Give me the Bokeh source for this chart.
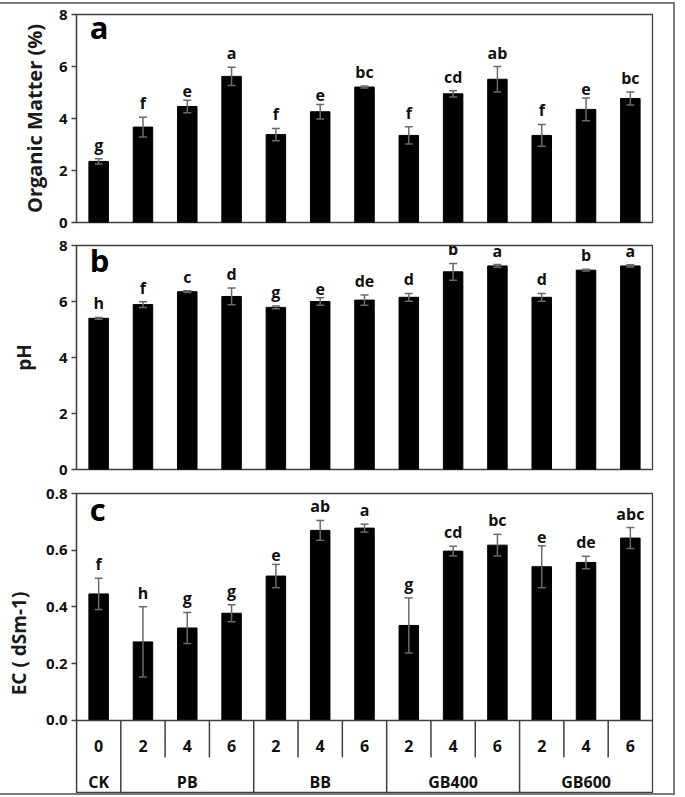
from bokeh.plotting import figure
from bokeh.models import (FactorRange, Range1d, ColumnDataSource, Whisker, TeeHead,
                          FixedTicker, NumeralTickFormatter, Span)
from bokeh.layouts import column
from bokeh.core.properties import value
from bokeh.embed import file_html
from bokeh.resources import INLINE

# ---------------- data ----------------
groups = ["CK", "PB", "PB", "PB", "BB", "BB", "BB",
          "GB400", "GB400", "GB400", "GB600", "GB600", "GB600"]
doses = ["0", "2", "4", "6", "2", "4", "6", "2", "4", "6", "2", "4", "6"]
group_names = ["CK", "PB", "BB", "GB400", "GB600"]

om_mean = [2.35, 3.67, 4.46, 5.62, 3.38, 4.26, 5.21, 3.35, 4.95, 5.51, 3.35, 4.35, 4.77]
om_err = [0.10, 0.38, 0.24, 0.35, 0.24, 0.28, 0.04, 0.33, 0.12, 0.49, 0.42, 0.44, 0.25]
om_letters = ["g", "f", "e", "a", "f", "e", "bc", "f", "cd", "ab", "f", "e", "bc"]

ph_mean = [5.40, 5.89, 6.35, 6.18, 5.79, 6.00, 6.05, 6.15, 7.06, 7.27, 6.15, 7.12, 7.27]
ph_err = [0.03, 0.10, 0.03, 0.30, 0.05, 0.13, 0.18, 0.14, 0.30, 0.05, 0.14, 0.03, 0.04]
ph_letters = ["h", "f", "c", "d", "g", "e", "de", "d", "b", "a", "d", "b", "a"]

ec_mean = [0.446, 0.277, 0.326, 0.378, 0.509, 0.670, 0.678, 0.335, 0.597, 0.618, 0.542, 0.557, 0.643]
ec_err = [0.055, 0.124, 0.055, 0.030, 0.041, 0.035, 0.014, 0.097, 0.017, 0.038, 0.074, 0.022, 0.037]
ec_letters = ["f", "h", "g", "g", "e", "ab", "a", "g", "cd", "bc", "e", "de", "abc"]

om_ticks = [0, 2, 4, 6, 8]
ph_ticks = [0, 2, 4, 6, 8]
ec_ticks = [0.0, 0.2, 0.4, 0.6, 0.8]

# ---------------- style ----------------
FONT = "Open Sans"
AX = "#404040"
ERR = "#6a6a6a"
W = 677

factors = list(zip(groups, doses))
x_range = FactorRange(*factors, group_padding=0, factor_padding=0,
                      subgroup_padding=0, range_padding=0)


def panel(height, top, bottom, y_range, mean, err, letters, ylabel, ticks,
          fmt, tag, tag_dy, standoff, label_size):
    p = figure(x_range=x_range, y_range=y_range, width=W, height=height,
               output_backend="svg", toolbar_location=None, x_axis_location=None,
               min_border_left=80, min_border_right=21,
               min_border_top=top, min_border_bottom=bottom)
    p.xgrid.visible = False
    p.ygrid.visible = False
    p.outline_line_color = AX
    p.outline_line_width = 1.3
    p.background_fill_color = "white"
    p.border_fill_color = "white"

    ax = p.yaxis[0]
    ax.ticker = FixedTicker(ticks=ticks)
    ax.formatter = NumeralTickFormatter(format=fmt)
    ax.axis_label = ylabel
    ax.axis_label_text_font = FONT
    ax.axis_label_text_font_style = "bold"
    ax.axis_label_text_font_size = label_size
    ax.axis_label_text_color = "#1a1a1a"
    ax.axis_label_standoff = standoff
    ax.major_label_text_font = FONT
    ax.major_label_text_font_style = "bold"
    ax.major_label_text_font_size = "15px"
    ax.major_label_text_color = "#111111"
    ax.major_label_standoff = 4
    ax.major_tick_in = 0
    ax.major_tick_out = 5
    ax.minor_tick_out = 0
    ax.minor_tick_in = 0
    ax.axis_line_color = AX
    ax.axis_line_width = 1.3
    ax.major_tick_line_color = AX
    ax.major_tick_line_width = 1.3

    upper = [m + e for m, e in zip(mean, err)]
    lower = [m - e for m, e in zip(mean, err)]
    src = ColumnDataSource(dict(x=factors, top=mean, upper=upper, lower=lower,
                                letters=letters))
    p.vbar(x="x", top="top", width=0.44, source=src, fill_color="black",
           line_color="black")
    wh = Whisker(source=src, base="x", upper="upper", lower="lower",
                 line_color=ERR, line_width=1.5, level="overlay",
                 upper_head=TeeHead(size=8, line_color=ERR, line_width=1.5),
                 lower_head=TeeHead(size=8, line_color=ERR, line_width=1.5))
    p.add_layout(wh)
    p.text(x="x", y="upper", text="letters", source=src, text_align="center",
           text_baseline="bottom", y_offset=-3, text_font=value(FONT),
           text_font_style="bold", text_font_size="16px", text_color="#111111")
    p.text(x=[factors[0]], y=[ticks[-1]], text=[tag], x_offset=-9, y_offset=tag_dy,
           text_align="left", text_baseline="alphabetic", text_font=value(FONT),
           text_font_style="bold", text_font_size="31px", text_color="black")
    return p


pa = panel(229, 10, 11, Range1d(0, 8), om_mean, om_err, om_letters,
           "Organic Matter (%)", om_ticks, "0", "a", 12, 8, "20px")
pb = panel(248, 12, 12, Range1d(0, 8), ph_mean, ph_err, ph_letters,
           "pH", ph_ticks, "0", "b", 14, 19, "19px")

ec_bottom = -0.2573
pc = panel(312, 12, 0, Range1d(ec_bottom, 0.8), ec_mean, ec_err, ec_letters,
           "EC ( dSm-1)", ec_ticks, "0.0", "c", 15, 11, "19px")
pc.yaxis[0].bounds = (0, 0.8)
pc.add_layout(Span(location=0, dimension="width", line_color=AX, line_width=1.5))

# table-style category axis under panel c
sub_sep, grp_sep = [], []
for i, f in enumerate(factors):
    if i == 0 or groups[i] != groups[i - 1]:
        grp_sep.append((f[0], f[1], -0.5))
    else:
        sub_sep.append((f[0], f[1], -0.5))
sub_end = -0.130
pc.segment(x0=sub_sep, y0=[0] * len(sub_sep), x1=sub_sep, y1=[sub_end] * len(sub_sep),
           line_color=AX, line_width=1.5)
pc.segment(x0=grp_sep, y0=[0] * len(grp_sep), x1=grp_sep, y1=[ec_bottom] * len(grp_sep),
           line_color=AX, line_width=1.5)
pc.text(x=factors, y=[-0.0906] * len(factors), text=doses, text_align="center",
        text_baseline="middle", text_font=value(FONT), text_font_style="bold",
        text_font_size="16px", text_color="#111111")
pc.text(x=group_names, y=[-0.2185] * len(group_names), text=group_names,
        text_align="center", text_baseline="middle", text_font=value(FONT),
        text_font_style="bold", text_font_size="16px", text_color="#111111")

layout = column(pa, pb, pc, spacing=0,
                styles={"border": "2px solid #7a7a7a", "margin": "2px 0 0 -6px",
                        "background-color": "white"})

open("out.html", "w").write(file_html(layout, INLINE))
